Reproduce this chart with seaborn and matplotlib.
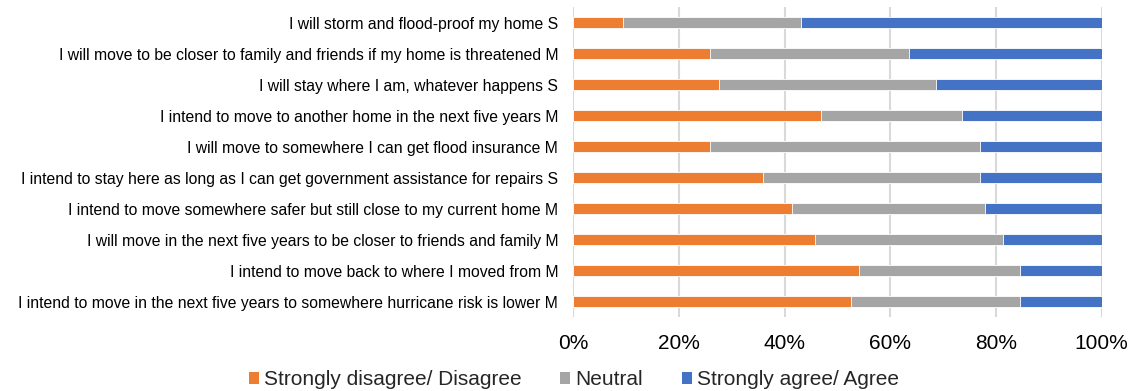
import matplotlib
matplotlib.use("Agg")
import matplotlib.pyplot as plt
import seaborn as sns
import numpy as np
import pandas as pd
from matplotlib.patches import Patch

statements = [
    "I will storm and flood-proof my home S",
    "I will move to be closer to family and friends if my home is threatened M",
    "I will stay where I am, whatever happens S",
    "I intend to move to another home in the next five years M",
    "I will move to somewhere I can get flood insurance M",
    "I intend to stay here as long as I can get government assistance for repairs S",
    "I intend to move somewhere safer but still close to my current home M",
    "I will move in the next five years to be closer to friends and family M",
    "I intend to move back to where I moved from M",
    "I intend to move in the next five years to somewhere hurricane risk is lower M",
]
disagree = [9.4, 25.9, 27.6, 46.9, 25.9, 35.8, 41.4, 45.8, 54.1, 52.5]
neutral = [33.7, 37.7, 41.0, 26.7, 51.0, 41.2, 36.5, 35.5, 30.5, 32.1]
agree = [56.9, 36.4, 31.4, 26.4, 23.1, 23.0, 22.1, 18.7, 15.4, 15.4]

series_names = ["Strongly disagree/ Disagree", "Neutral", "Strongly agree/ Agree"]
colors = ["#ED7D31", "#A5A5A5", "#4472C4"]

df = pd.DataFrame({"statement": statements, "dis": disagree, "neu": neutral, "agr": agree})
df["c1"] = df["dis"]
df["c2"] = df["dis"] + df["neu"]
df["c3"] = df["dis"] + df["neu"] + df["agr"]

sns.set_theme(style="white")
plt.rcParams["font.family"] = ["Liberation Sans", "DejaVu Sans"]

fig = plt.figure(figsize=(11.32, 3.91), dpi=100)
ax = fig.add_axes([0.5066, 0.189, 0.4665, 0.793])

# stacked bars drawn as overlapping cumulative totals
for col, color in zip(["c3", "c2", "c1"], colors[::-1]):
    sns.barplot(data=df, y="statement", x=col, color=color, orient="h",
                width=0.35, ax=ax, edgecolor="white", linewidth=0.6, saturation=1)

ax.set_xlim(0, 100)
ax.set_ylim(9.5, -0.5)
ax.set_xticks(np.arange(0, 101, 20))
ax.set_xticklabels([f"{v}%" for v in range(0, 101, 20)], fontsize=15, color="#000000")
ax.tick_params(axis="x", length=0, pad=12.5)
ax.tick_params(axis="y", length=0, pad=11, labelsize=11.3, labelcolor="#000000")
ax.set_xlabel("")
ax.set_ylabel("")
ax.xaxis.grid(True, color="#D9D9D9", linewidth=1.5)
ax.set_axisbelow(True)
for s in ax.spines.values():
    s.set_visible(False)

handles = [Patch(facecolor=c, edgecolor="none", label=n) for c, n in zip(colors, series_names)]
fig.legend(handles=handles, loc="center", bbox_to_anchor=(0.507, 0.029), ncol=3,
           frameon=False, fontsize=15, handlelength=0.48, handleheight=0.48,
           handletextpad=0.25, columnspacing=1.85, borderpad=0.1)

fig.savefig("out.png", dpi=100)
